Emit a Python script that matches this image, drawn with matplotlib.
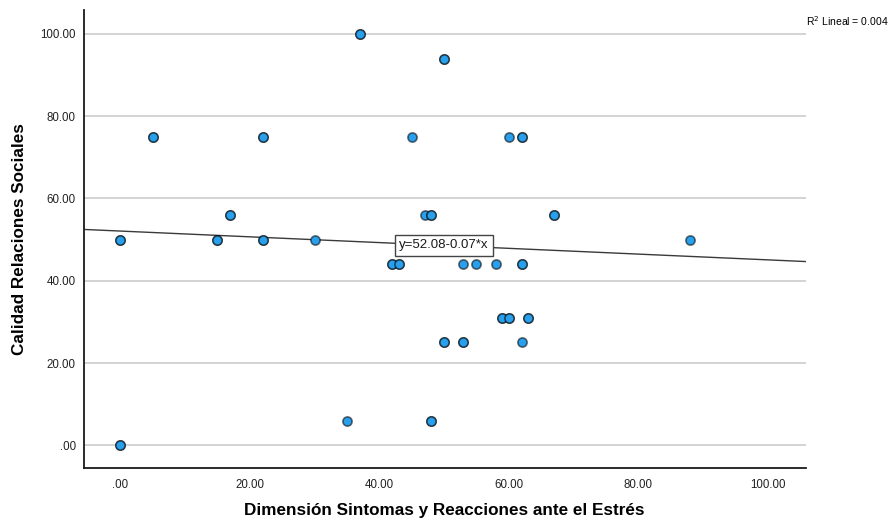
import numpy as np
import matplotlib
matplotlib.use("Agg")
import matplotlib.pyplot as plt

plt.rcParams["font.family"] = ["Liberation Sans", "DejaVu Sans"]

# data (count = cases stacked on the same spot)
sintomas = [0, 0, 5, 15, 17, 22, 22, 30, 35, 37, 42, 43, 45, 47, 48, 48,
            50, 50, 53, 53, 55, 58, 59, 60, 60, 62, 62, 62, 63, 67, 88]
relaciones = [50, 0, 75, 50, 56, 75, 50, 50, 6, 100, 44, 44, 75, 56, 56, 6,
              94, 25, 44, 25, 44, 44, 31, 31, 75, 75, 44, 25, 31, 56, 50]
count = [2, 2, 2, 2, 2, 2, 2, 1, 1, 2, 2, 2, 1, 1, 2, 2,
         2, 2, 1, 2, 1, 1, 2, 2, 1, 2, 2, 1, 2, 2, 1]

intercept, slope = 52.08, -0.07
r2 = 0.004

x_ticks = [0, 20, 40, 60, 80, 100]
y_ticks = [0, 20, 40, 60, 80, 100]
x_lim = (-5.6, 105.9)
y_lim = (-5.5, 105.8)

FILL = "#2aa0ec"

fig = plt.figure(figsize=(8.95, 5.2), dpi=100)
ax = fig.add_axes([84 / 895, 1 - 468 / 520, (806 - 84) / 895, (468 - 10) / 520])

ax.set_xlim(*x_lim)
ax.set_ylim(*y_lim)

# grid only horizontal, behind everything
ax.yaxis.grid(True, color="#c8c8c8", lw=1.1)
ax.set_axisbelow(True)

# fit line
xl = np.array(x_lim)
ax.plot(xl, intercept + slope * xl, color="#3a3a3a", lw=1.0, zorder=2)

# markers; stacked cases drawn again so the edge darkens like in SPSS
xs = np.array(sintomas, dtype=float)
ys = np.array(relaciones, dtype=float)
cs = np.array(count)
ax.scatter(xs, ys, s=44, c=FILL, edgecolors=(0, 0, 0, 0.55), linewidths=1.2,
           zorder=3)
dup = cs > 1
ax.scatter(xs[dup], ys[dup], s=44, c=FILL, edgecolors=(0, 0, 0, 0.55),
           linewidths=1.2, zorder=4)

xm = 50
ax.text(xm, intercept + slope * xm, f"y={intercept:.2f}{slope:.2f}*x",
        ha="center", va="center", fontsize=9.5, color="#1a1a1a", zorder=5,
        bbox=dict(boxstyle="square,pad=0.35", fc="white", ec="#444444", lw=1.0))

ax.set_xticks(x_ticks)
ax.set_yticks(y_ticks)
fmt = lambda v: f"{v:.2f}".lstrip("0") if v == 0 else f"{v:.2f}"
ax.set_xticklabels([fmt(v) for v in x_ticks])
ax.set_yticklabels([fmt(v) for v in y_ticks])
ax.tick_params(length=0, labelsize=8.3, colors="#222222")
ax.tick_params(axis="y", pad=6)
ax.tick_params(axis="x", pad=8)

for side in ("top", "right"):
    ax.spines[side].set_visible(False)
for side in ("left", "bottom"):
    ax.spines[side].set_color("#1a1a1a")
    ax.spines[side].set_linewidth(1.3)

fig.text(444 / 895, 1 - 511 / 520, "Dimensión Sintomas y Reacciones ante el Estrés",
         ha="center", va="center", fontsize=12.3, fontweight="bold")
fig.text(20 / 895, 1 - 239 / 520, "Calidad Relaciones Sociales", rotation=90,
         ha="center", va="center", fontsize=12.3, fontweight="bold")
fig.text(806 / 895, 1 - 21 / 520, f"R$^2$ Lineal = {r2:.3f}", ha="left",
         va="center", fontsize=7.5)

fig.savefig("out.png", dpi=100)
